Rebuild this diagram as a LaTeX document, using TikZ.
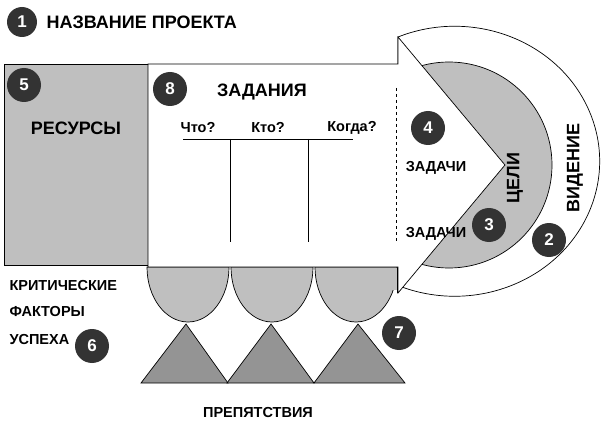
\documentclass[tikz,border=0pt]{standalone}
\usepackage{fontspec}
\setmainfont{Liberation Sans}
\begin{document}
\begin{tikzpicture}[x=1pt,y=-1pt,
  num/.style={circle,fill=black!80,minimum size=34pt,inner sep=0pt,text=white,font=\bfseries\fontsize{17}{17}\selectfont},
  lbl/.style={font=\bfseries\fontsize{18}{18}\selectfont},
  sm/.style={font=\bfseries\fontsize{14.5}{14.5}\selectfont},
  zd/.style={font=\bfseries\fontsize{14.5}{14.5}\selectfont},
  lgray/.style={fill=black!25,draw=black,line width=0.7pt},
  dgray/.style={fill=black!42,draw=black,line width=0.7pt}]
\useasboundingbox (0,0) rectangle (606,444);
% vision
\draw[fill=white,line width=0.7pt] (398,37) arc[start angle=113,end angle=-113,x radius=145pt,y radius=135pt] -- cycle;
% goals
\draw[lgray] (449,165) circle[radius=103pt];
% resources
\draw[lgray] (4,64) rectangle (148,265);
% bottom half-ellipses
\foreach \c in {188,272,356}{
  \draw[lgray] (\c-41,267) arc[start angle=180,end angle=360,x radius=41pt,y radius=55pt] -- cycle;}
\fill[black!25] (356,268) rectangle (397,290);
\draw[line width=0.7pt] (397,267) -- (397,293);
% arrow
\draw[fill=white,line width=0.7pt] (148,64) -- (398,64) -- (398,37) -- (505,165) -- (398,293) -- (398,267) -- (148,267) -- cycle;
% triangles
\draw[dgray] (186,324) -- (228,383) -- (141,383) -- cycle;
\draw[dgray] (271,324) -- (314,383) -- (227,383) -- cycle;
\draw[dgray] (358,324) -- (405,383) -- (314,383) -- cycle;
% table
\draw[line width=0.7pt] (183,139) -- (353,139);
\draw[line width=0.7pt] (230,139) -- (230,242);
\draw[line width=0.7pt] (308,139) -- (308,242);
\draw[dashed] (396,88) -- (396,243);
% texts
\node[lbl,anchor=west] (t1) at (43,22) {НАЗВАНИЕ ПРОЕКТА};
\node[lbl] (tr) at (76,128) {РЕСУРСЫ};
\node[lbl] (tz) at (262,92) {ЗАДАНИЯ};
\node[sm] (q1) at (198,128) {Что?};
\node[sm] (q2) at (268,128) {Кто?};
\node[sm] (q3) at (352,128) {Когда?};
\node[zd] (z1) at (436,168) {ЗАДАЧИ};
\node[zd] (z2) at (436,234) {ЗАДАЧИ};
\node[lbl,rotate=90] (tc) at (515,178) {ЦЕЛИ};
\node[lbl,rotate=90] (tv) at (575,168) {ВИДЕНИЕ};
\node[sm,anchor=west] (k1) at (6,286) {КРИТИЧЕСКИЕ};
\node[sm,anchor=west] (k2) at (6,312) {ФАКТОРЫ};
\node[sm,anchor=west] (k3) at (6,340) {УСПЕХА};
\node[sm] (tp) at (258,413) {ПРЕПЯТСТВИЯ};
% numbers
\node[num,minimum size=30pt] (n1) at (22,22) {1};
\node[num] (n5) at (24,85) {5};
\node[num] (n8) at (170,89) {8};
\node[num] (n4) at (428,128) {4};
\node[num] (n3) at (489,225) {3};
\node[num] (n2) at (549,240) {2};
\node[num] (n6) at (92,346) {6};
\node[num] (n7) at (399,333) {7};
\end{tikzpicture}
\end{document}
